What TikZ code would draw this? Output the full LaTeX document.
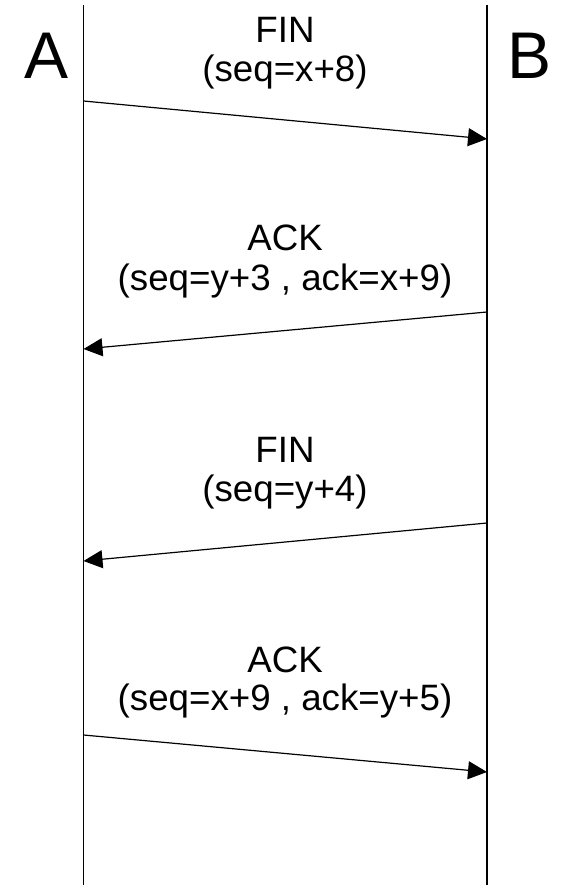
\documentclass[tikz,border=0pt]{standalone}
\usepackage{fontspec}
\setmainfont{Liberation Sans}
\usetikzlibrary{arrows.meta}
\begin{document}
\begin{tikzpicture}[x=1pt,y=-1pt,
  life/.style={line width=1.2pt},
  msg/.style={line width=1.2pt,-{Triangle[length=19pt,width=18pt]}},
  lbl/.style={anchor=base,inner sep=0pt,font=\fontsize{36.7}{44}\selectfont},
  host/.style={anchor=base,inner sep=0pt,font=\fontsize{66}{70}\selectfont}]
\useasboundingbox (0,0) rectangle (560,885);
% lifelines
\coordinate (Atop) at (83.5,5);
\coordinate (Abot) at (83.5,885);
\coordinate (Btop) at (487,5);
\coordinate (Bbot) at (487,885);
\draw[life] (Atop) -- (Abot);
\draw[life] (Btop) -- (Bbot);
\node[host] (A) at (47,79) {A};
\node[host] (B) at (530,79) {B};
% message endpoints
\coordinate (a1) at (83.5,101);  \coordinate (b1) at (487,139);
\coordinate (b2) at (487,312);   \coordinate (a2) at (83.5,349);
\coordinate (b3) at (487,523);   \coordinate (a3) at (83.5,561);
\coordinate (a4) at (83.5,735);  \coordinate (b4) at (487,772);
\draw[msg] (a1) -- (b1);
\draw[msg] (b2) -- (a2);
\draw[msg] (b3) -- (a3);
\draw[msg] (a4) -- (b4);
% labels
\node[lbl] (l1a) at (285,43) {FIN};
\node[lbl] (l1b) at (285,82) {(seq=x+8)};
\node[lbl] (l2a) at (285,251) {ACK};
\node[lbl] (l2b) at (285,290) {(seq=y+3 , ack=x+9)};
\node[lbl] (l3a) at (285,462) {FIN};
\node[lbl] (l3b) at (285,501) {(seq=y+4)};
\node[lbl] (l4a) at (285,672) {ACK};
\node[lbl] (l4b) at (285,710) {(seq=x+9 , ack=y+5)};
\end{tikzpicture}
\end{document}
